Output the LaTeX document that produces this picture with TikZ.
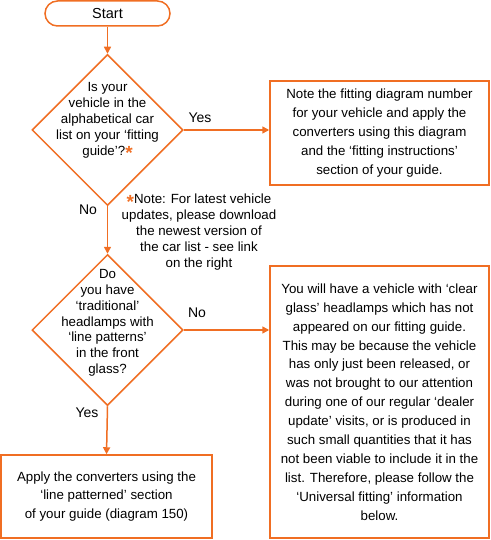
\documentclass[tikz,border=0pt]{standalone}
\usepackage{fontspec}
\setmainfont{Liberation Sans}
\usetikzlibrary{shapes.geometric,arrows.meta}
\definecolor{flow}{RGB}{240,110,35}
\newcommand{\orstar}{\textcolor{flow}{\raisebox{-0.32em}{\fontsize{19}{19}\selectfont\bfseries *}}}
\begin{document}
\begin{tikzpicture}[x=1pt,y=-1pt,
  line/.style={draw=flow,line width=1.5pt},
  arr/.style={line,-{Triangle[length=7pt,width=7pt]}},
  boxtxt/.style={font=\fontsize{13.3}{18.9}\selectfont,align=center,text=black},
  smalltxt/.style={font=\fontsize{13.3}{15.8}\selectfont,align=center,text=black},
  procbox/.style={rectangle,line,boxtxt,inner sep=0pt},
  decision/.style={diamond,line,minimum width=151pt,minimum height=151pt,inner sep=0pt,aspect=1},
  lbl/.style={font=\fontsize{14}{16}\selectfont,text=black,inner sep=0pt}]
\useasboundingbox (0,0) rectangle (490,540);
\node[rectangle,line,rounded corners=12.5pt,minimum width=125pt,minimum height=25pt,font=\fontsize{14.5}{16}\selectfont] (start) at (107.5,13.5) {Start};
\node[decision] (d1) at (107.5,130) {};
\node[smalltxt] (d1t) at (107.5,121) {Is your\\vehicle in the\\alphabetical car\\list on your ‘fitting\\guide’?\orstar};
\node[procbox,minimum width=219pt,minimum height=104pt] (b1) at (379.5,133) {Note the fitting diagram number\\for your vehicle and apply the\\converters using this diagram\\and the ‘fitting instructions’\\section of your guide.};
\node[smalltxt] (note) at (199,232) {\orstar Note: For latest vehicle\\updates, please download\\the newest version of\\the car list - see link\\on the right};
\node[decision] (d2) at (107.5,330) {};
\node[smalltxt] (d2t) at (107.5,323) {Do\\you have\\‘traditional’\\headlamps with\\‘line patterns’\\in the front\\glass?};
\node[procbox,minimum width=219pt,minimum height=272pt] (b2) at (379.5,402) {You will have a vehicle with ‘clear\\glass’ headlamps which has not\\appeared on our fitting guide.\\This may be because the vehicle\\has only just been released, or\\was not brought to our attention\\during one of our regular ‘dealer\\update’ visits, or is produced in\\such small quantities that it has\\not been viable to include it in the\\list. Therefore, please follow the\\‘Universal fitting’ information\\below.};
\node[procbox,minimum width=211pt,minimum height=83pt] (b3) at (106.5,496.5) {Apply the converters using the\\‘line patterned’ section\\of your guide (diagram 150)};
\draw[arr] (start.south) -- (d1.north);
\draw[arr] (d1.east) -- (b1.west |- d1.east);
\draw[arr] (d1.south) -- (d2.north);
\draw[arr] (d2.east) -- (b2.west |- d2.east);
\draw[arr] (d2.south) -- (b3.north);
\node[lbl] (y1) at (200,118) {Yes};
\node[lbl] (n1) at (88,210) {No};
\node[lbl] (n2) at (197,313) {No};
\node[lbl] (y2) at (87,413) {Yes};
\end{tikzpicture}
\end{document}
